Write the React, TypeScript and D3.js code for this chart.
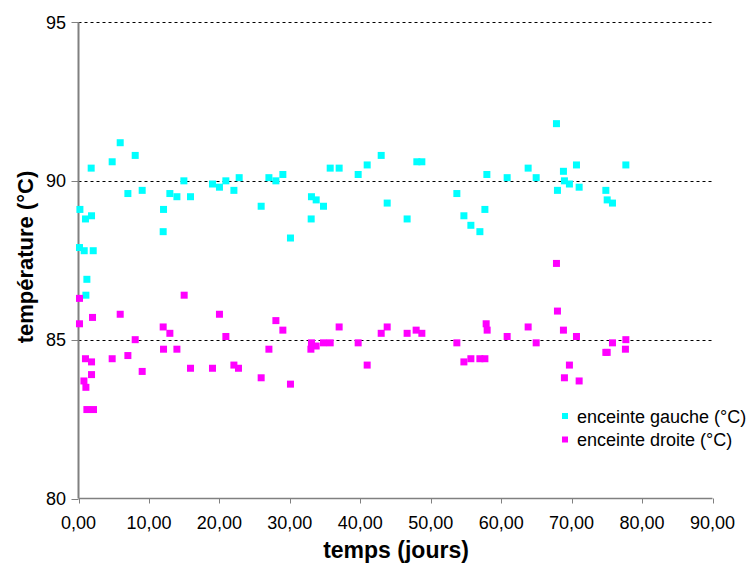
import React from "react";
import * as d3 from "d3";

const gaucheDays = [5.92, 8.05, 4.78, 1.8, 14.96, 7.01, 9.04, 12.97, 13.97, 15.9, 19.02, 20.01, 20.92, 22.06, 22.81, 0.2, 0.99, 1.85, 12.07, 12.02, 0.14, 0.81, 2.09, 1.19, 1.05, 27.03, 28.02, 29.01, 25.93, 30.09, 33.07, 33.74, 34.78, 33.03, 35.73, 37.0, 39.7, 40.98, 42.97, 43.82, 46.65, 48.03, 48.74, 53.71, 54.71, 55.7, 56.98, 57.69, 57.97, 60.85, 63.83, 64.97, 67.85, 67.99, 68.84, 68.98, 69.69, 70.69, 71.07, 74.86, 75.05, 75.8, 77.7];
const gaucheTemps = [91.2, 90.8, 90.6, 90.4, 90.0, 89.6, 89.7, 89.6, 89.5, 89.5, 89.9, 89.8, 90.0, 89.7, 90.1, 89.1, 88.8, 88.9, 89.1, 88.4, 87.9, 87.8, 87.8, 86.9, 86.4, 90.1, 90.0, 90.2, 89.2, 88.2, 89.5, 89.4, 89.2, 88.8, 90.4, 90.4, 90.2, 90.5, 90.8, 89.3, 88.8, 90.6, 90.6, 89.6, 88.9, 88.6, 88.4, 89.1, 90.2, 90.1, 90.4, 90.1, 91.8, 89.7, 90.3, 90.0, 89.9, 90.5, 89.8, 89.7, 89.4, 89.3, 90.5];

const droiteDays = [15.0, 0.14, 5.92, 20.01, 1.99, 0.14, 12.02, 12.97, 8.05, 20.92, 12.07, 13.97, 0.99, 1.85, 4.78, 7.01, 15.9, 19.02, 22.06, 22.71, 9.04, 1.85, 0.77, 1.05, 1.19, 2.13, 28.02, 29.01, 27.03, 25.93, 30.09, 33.07, 32.99, 33.74, 34.78, 35.73, 37.0, 39.7, 40.98, 42.97, 43.82, 46.65, 47.93, 48.74, 53.71, 54.71, 55.7, 56.98, 57.69, 57.87, 58.01, 60.85, 63.83, 64.97, 67.85, 67.99, 68.84, 69.69, 68.98, 70.69, 71.07, 74.86, 75.05, 75.8, 77.7, 77.64];
const droiteTemps = [86.4, 86.3, 85.8, 85.8, 85.7, 85.5, 85.4, 85.2, 85.0, 85.1, 84.7, 84.7, 84.4, 84.3, 84.4, 84.5, 84.1, 84.1, 84.2, 84.1, 84.0, 83.9, 83.7, 83.5, 82.8, 82.8, 85.6, 85.3, 84.7, 83.8, 83.6, 84.9, 84.7, 84.8, 84.9, 84.9, 85.4, 84.9, 84.2, 85.2, 85.4, 85.2, 85.3, 85.2, 84.9, 84.3, 84.4, 84.4, 84.4, 85.5, 85.3, 85.1, 85.4, 84.9, 87.4, 85.9, 85.3, 84.2, 83.8, 85.1, 83.7, 84.6, 84.6, 84.9, 85.0, 84.7];

const xTicks = [0, 10, 20, 30, 40, 50, 60, 70, 80, 90];
const yTicks = [80, 85, 90, 95];
const seriesNames = ["enceinte gauche (°C)", "enceinte droite (°C)"];
const seriesColors = ["#00FFFF", "#FF00FF"];

export default function App() {
  const W = 749, H = 565;
  const x = d3.scaleLinear().domain([0, 90]).range([78.5, 712.5]);
  const y = d3.scaleLinear().domain([80, 95]).range([498.5, 22]);
  const fmt = (v: number) => v.toFixed(2).replace(".", ",");
  const font = "Liberation Sans, Arial, sans-serif";
  const sq = 7;
  const series = [
    { xs: gaucheDays, ys: gaucheTemps, color: seriesColors[0] },
    { xs: droiteDays, ys: droiteTemps, color: seriesColors[1] },
  ];
  return (
    <svg width={W} height={H} style={{ position: "absolute", left: 0, top: 0, background: "#fff" }} fontFamily={font}>
      {yTicks.filter((t) => t > 80).map((t) => (
        <line key={"g" + t} x1={x(0)} x2={x(90)} y1={Math.round(y(t)) + 0.5} y2={Math.round(y(t)) + 0.5} stroke="#000" strokeWidth={1} strokeDasharray="3,3" />
      ))}
      {/* y axis */}
      <line x1={x(0)} x2={x(0)} y1={y(95)} y2={y(80)} stroke="#808080" strokeWidth={2} />
      {yTicks.map((t) => (
        <g key={"yt" + t}>
          <line x1={x(0) - 7} x2={x(0)} y1={Math.round(y(t)) + 0.5} y2={Math.round(y(t)) + 0.5} stroke="#808080" strokeWidth={1} />
          <text x={66} y={y(t) + 6.5} textAnchor="end" fontSize={18} fill="#000">{t}</text>
        </g>
      ))}
      {/* x axis */}
      <line x1={x(0)} x2={x(90)} y1={y(80)} y2={y(80)} stroke="#808080" strokeWidth={1.5} />
      {xTicks.map((t) => (
        <g key={"xt" + t}>
          <line x1={Math.round(x(t)) + 0.5} x2={Math.round(x(t)) + 0.5} y1={y(80)} y2={y(80) + 5} stroke="#808080" strokeWidth={1} />
          <text x={x(t)} y={529} textAnchor="middle" fontSize={18} fill="#000">{fmt(t)}</text>
        </g>
      ))}
      {series.map((s, si) => (
        <g key={"s" + si}>
          {s.xs.map((d, i) => (
            <rect key={i} x={x(d) - sq / 2} y={y(s.ys[i]) - sq / 2} width={sq} height={sq} fill={s.color} />
          ))}
        </g>
      ))}
      {/* legend */}
      {seriesNames.map((n, i) => (
        <g key={"l" + i}>
          <rect x={562} y={416 + i * 23.5 - 3} width={6} height={6} fill={seriesColors[i]} />
          <text x={577} y={416 + i * 23.5 + 6.5} fontSize={18} fill="#000">{n}</text>
        </g>
      ))}
      <text x={396} y={558} textAnchor="middle" fontSize={23} fontWeight="bold" fill="#000">temps (jours)</text>
      <text transform={`translate(33,257) rotate(-90)`} textAnchor="middle" fontSize={22} fontWeight="bold" fill="#000">température (°C)</text>
    </svg>
  );
}
